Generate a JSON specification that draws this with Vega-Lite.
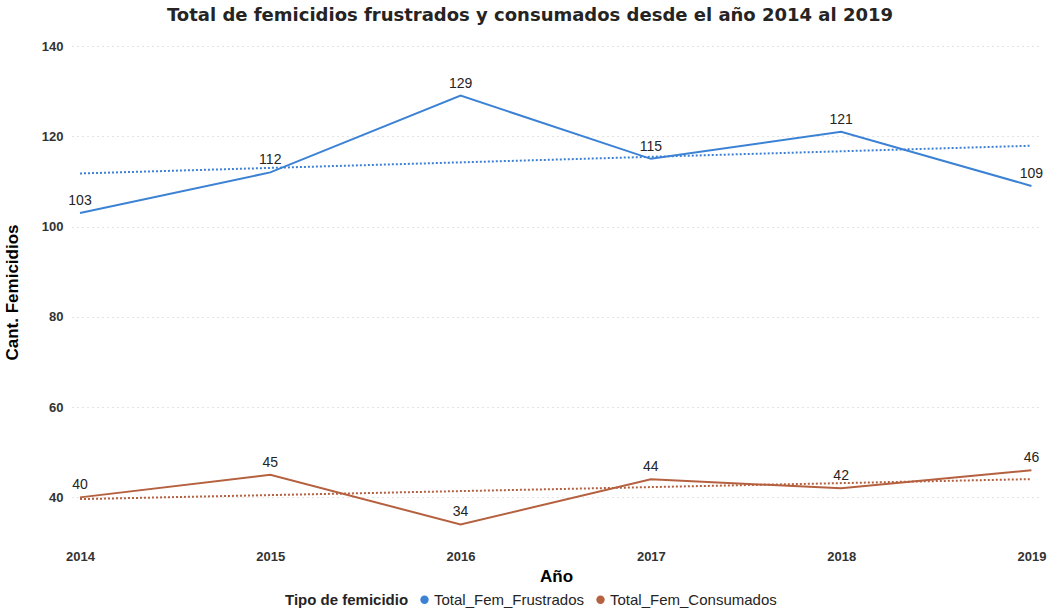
{
  "$schema": "https://vega.github.io/schema/vega-lite/v6.json",
  "autosize": "none",
  "width": 968,
  "height": 492,
  "padding": {"left": 72, "top": 46, "right": 9, "bottom": 70},
  "background": "white",
  "title": {
    "text": "Total de femicidios frustrados y consumados desde el año 2014 al 2019",
    "font": "DejaVu Sans",
    "fontSize": 18,
    "fontWeight": "bold",
    "color": "#252423",
    "anchor": "middle",
    "frame": "group",
    "dx": -26,
    "offset": 15
  },
  "data": {
    "values": [
      {"anio": 2014, "tipo": "Total_Fem_Frustrados", "valor": 103},
      {"anio": 2015, "tipo": "Total_Fem_Frustrados", "valor": 112},
      {"anio": 2016, "tipo": "Total_Fem_Frustrados", "valor": 129},
      {"anio": 2017, "tipo": "Total_Fem_Frustrados", "valor": 115},
      {"anio": 2018, "tipo": "Total_Fem_Frustrados", "valor": 121},
      {"anio": 2019, "tipo": "Total_Fem_Frustrados", "valor": 109},
      {"anio": 2014, "tipo": "Total_Fem_Consumados", "valor": 40},
      {"anio": 2015, "tipo": "Total_Fem_Consumados", "valor": 45},
      {"anio": 2016, "tipo": "Total_Fem_Consumados", "valor": 34},
      {"anio": 2017, "tipo": "Total_Fem_Consumados", "valor": 44},
      {"anio": 2018, "tipo": "Total_Fem_Consumados", "valor": 42},
      {"anio": 2019, "tipo": "Total_Fem_Consumados", "valor": 46}
    ]
  },
  "encoding": {
    "x": {
      "field": "anio",
      "type": "quantitative",
      "scale": {"domain": [2013.958, 2019.045], "nice": false, "zero": false},
      "axis": {
        "values": [2014, 2015, 2016, 2017, 2018, 2019],
        "format": "d",
        "title": "Año",
        "grid": false,
        "domain": false,
        "ticks": false,
        "labelPadding": 12,
        "labelFont": "Liberation Sans",
        "labelFontSize": 13,
        "labelFontWeight": "bold",
        "labelColor": "#333333",
        "titleFont": "Liberation Sans",
        "titleFontSize": 17,
        "titleFontWeight": "bold",
        "titleColor": "#000000",
        "titlePadding": 5
      }
    },
    "y": {
      "field": "valor",
      "type": "quantitative",
      "scale": {"domain": [31, 140], "nice": false, "zero": false},
      "axis": {
        "values": [40, 60, 80, 100, 120, 140],
        "title": "Cant. Femicidios",
        "grid": true,
        "gridDash": [1, 4],
        "gridColor": "#c8c8c8",
        "gridWidth": 1,
        "domain": false,
        "ticks": false,
        "labelPadding": 9,
        "labelFont": "Liberation Sans",
        "labelFontSize": 13,
        "labelFontWeight": "bold",
        "labelColor": "#333333",
        "titleFont": "Liberation Sans",
        "titleFontSize": 17,
        "titleFontWeight": "bold",
        "titleColor": "#000000",
        "titlePadding": 20
      }
    },
    "color": {
      "field": "tipo",
      "type": "nominal",
      "sort": ["Total_Fem_Frustrados", "Total_Fem_Consumados"],
      "scale": {
        "domain": ["Total_Fem_Frustrados", "Total_Fem_Consumados"],
        "range": ["#3b82d4", "#b5603f"]
      },
      "legend": {
        "title": "Tipo de femicidio",
        "orient": "none",
        "legendX": 213,
        "legendY": 546,
        "direction": "horizontal",
        "titleOrient": "left",
        "symbolType": "circle",
        "symbolSize": 70,
        "symbolOpacity": 1,
        "symbolOffset": 0,
        "labelOffset": 2,
        "labelLimit": 400,
        "columnPadding": 8,
        "titleFont": "Liberation Sans",
        "titleFontSize": 15,
        "titleFontWeight": "bold",
        "titleColor": "#252423",
        "titlePadding": 8,
        "labelFont": "Liberation Sans",
        "labelFontSize": 15,
        "labelColor": "#252423",
        "encode": {
          "symbols": {
            "update": {
              "fill": {"scale": "color", "field": "value"},
              "strokeWidth": {"value": 0}
            }
          }
        }
      }
    }
  },
  "layer": [
    {
      "mark": {"type": "line", "strokeWidth": 2}
    },
    {
      "transform": [
        {"regression": "valor", "on": "anio", "groupby": ["tipo"], "extent": [2014, 2019]}
      ],
      "mark": {"type": "line", "strokeWidth": 2, "strokeDash": [2, 2]}
    },
    {
      "mark": {
        "type": "text",
        "baseline": "bottom",
        "dy": -5,
        "font": "Liberation Sans",
        "fontSize": 14,
        "color": "#252423"
      },
      "encoding": {
        "text": {"field": "valor", "type": "quantitative"},
        "color": {"value": "#252423"}
      }
    }
  ],
  "config": {"view": {"stroke": null}}
}
